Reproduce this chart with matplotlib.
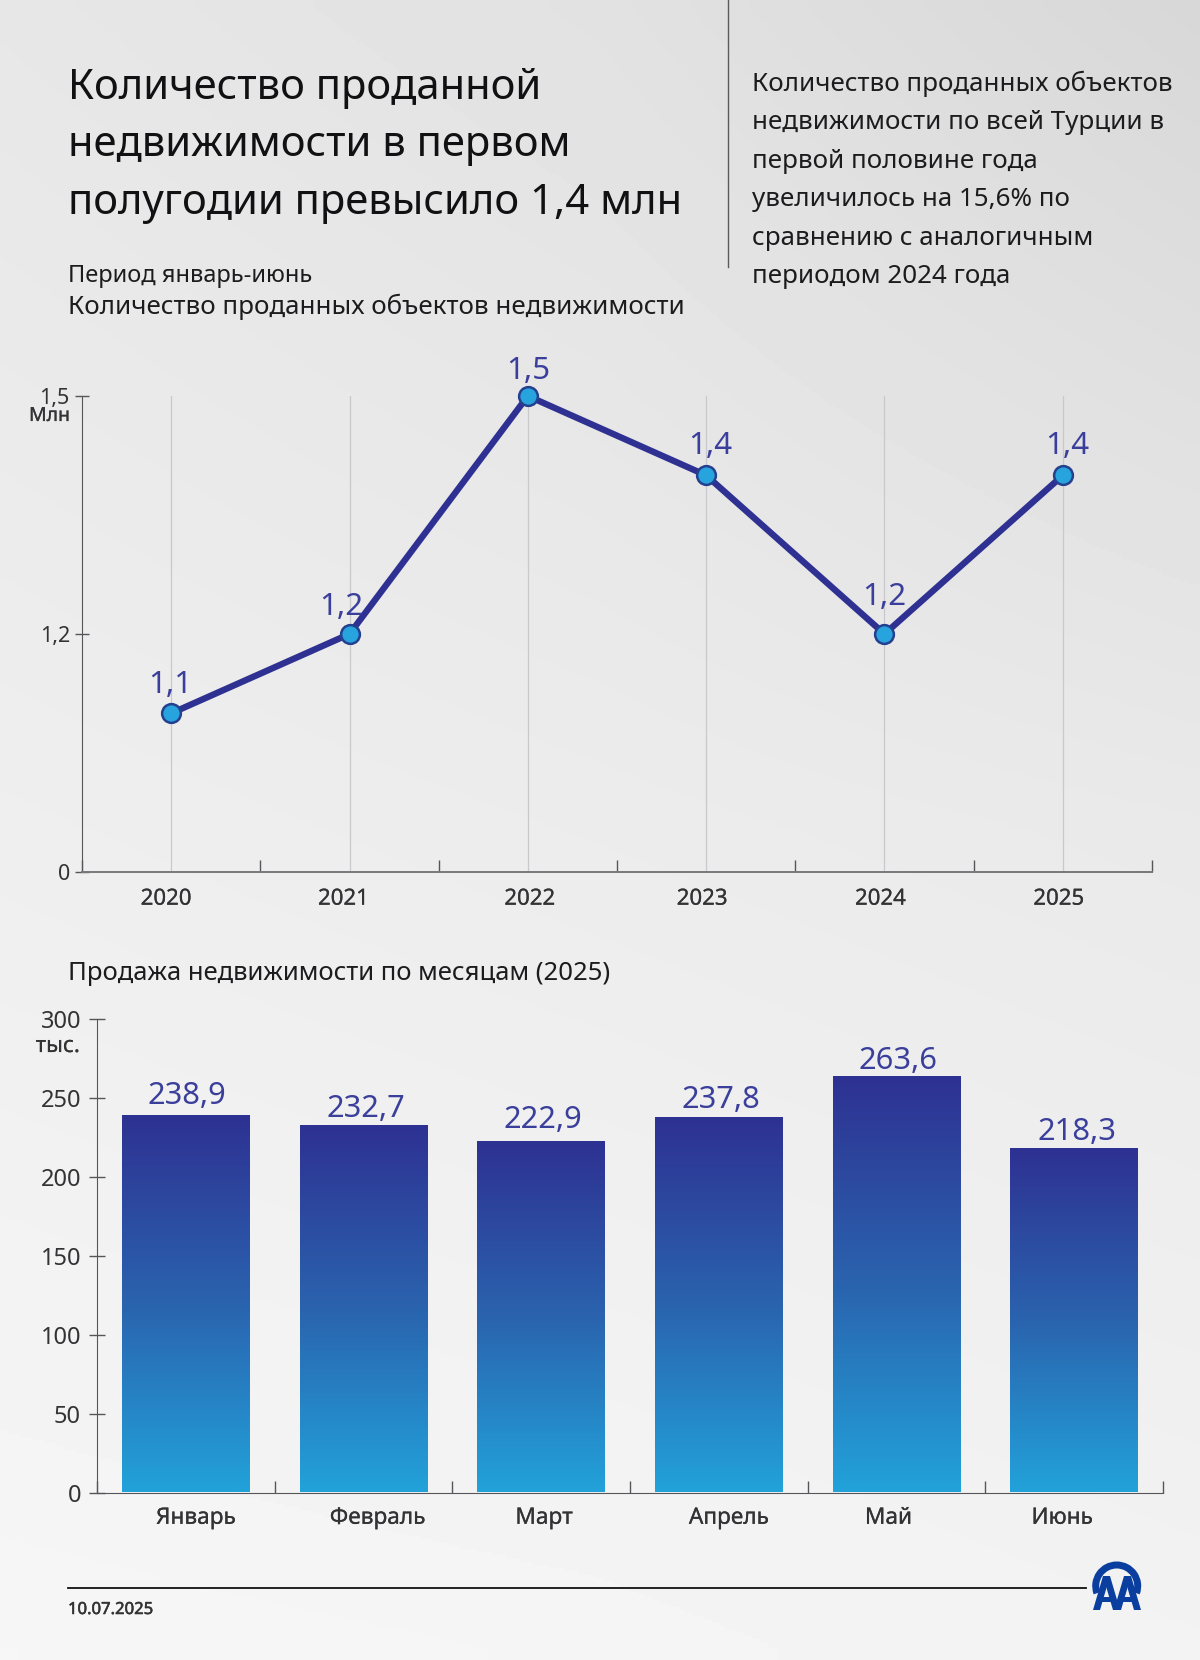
import numpy as np
import matplotlib
matplotlib.use('Agg')
import matplotlib.pyplot as plt
import matplotlib.patheffects as pe
from matplotlib.colors import LinearSegmentedColormap
from matplotlib.patches import Wedge
from matplotlib.transforms import ScaledTranslation

plt.rcParams['font.family'] = ['Noto Sans', 'DejaVu Sans']

W, H = 1200, 1660

title_lines = ['Количество проданной', 'недвижимости в первом', 'полугодии превысило 1,4 млн']
side_lines = ['Количество проданных объектов', 'недвижимости по всей Турции в', 'первой половине года',
              'увеличилось на 15,6% по', 'сравнению с аналогичным', 'периодом 2024 года']

years = ['2020', '2021', '2022', '2023', '2024', '2025']
sold_mln = [1.1, 1.2, 1.5, 1.4, 1.2, 1.4]
sold_labels = ['1,1', '1,2', '1,5', '1,4', '1,2', '1,4']

months = ['Январь', 'Февраль', 'Март', 'Апрель', 'Май', 'Июнь']
monthly = [238.9, 232.7, 222.9, 237.8, 263.6, 218.3]
monthly_labels = ['238,9', '232,7', '222,9', '237,8', '263,6', '218,3']
monthly_ticks = [0, 50, 100, 150, 200, 250, 300]

NAVY = '#2e3192'
LABEL = '#3b3f9c'
DARK = '#1c1c1e'
TICK = '#333335'
HEAVY = [pe.withStroke(linewidth=0.4, foreground=TICK)]
LIGHT_HEAVY = [pe.withStroke(linewidth=0.15, foreground=TICK)]


def box(left, top, right, bottom):
    return [left / W, 1 - bottom / H, (right - left) / W, (bottom - top) / H]


def shift_labels(ax, shifts):
    # the original labels are not quite centred, move each one by hand
    for lab, dx in zip(ax.get_xticklabels(), shifts):
        lab.set_transform(lab.get_transform() + ScaledTranslation(dx / 100, 0, fig.dpi_scale_trans))
        lab.set_path_effects(LIGHT_HEAVY)


def style_axis(ax, tick_len, y_size):
    ax.set_facecolor('none')
    for s in ['top', 'right']:
        ax.spines[s].set_visible(False)
    ax.set_xlim(-0.5, 5.5)
    ax.set_xticks(np.arange(-0.5, 6), minor=True)
    ax.tick_params(axis='x', which='minor', direction='in', length=9, width=1, color='#55555a')
    ax.tick_params(axis='x', which='major', length=0, labelcolor=TICK)
    ax.tick_params(axis='y', direction='inout', length=tick_len, width=1, color='#55555a',
                   labelsize=y_size, labelcolor=TICK)


fig = plt.figure(figsize=(W / 100, H / 100), dpi=100)

# page background
bg = fig.add_axes([0, 0, 1, 1], zorder=0)
shade = np.array([[0.905, 0.885, 0.845],
                  [0.935, 0.925, 0.915],
                  [0.965, 0.96, 0.95]])
bg.imshow(shade, cmap='gray', vmin=0, vmax=1, extent=(-300, W + 300, H + 400, -400), aspect='auto',
          interpolation='bilinear')
bg.set_xlim(0, W)
bg.set_ylim(H, 0)
bg.axis('off')

for line, y in zip(title_lines, [99, 156, 214]):
    bg.text(68, y, line, fontsize=30.1, color='#111113', va='baseline')
for line, y in zip(side_lines, [91, 129, 168, 206, 245, 283]):
    bg.text(752, y, line, fontsize=18.7, color=DARK, va='baseline')
bg.text(68, 282, 'Период январь-июнь', fontsize=17, color=DARK, va='baseline')
bg.text(68, 314, 'Количество проданных объектов недвижимости', fontsize=18.7, color=DARK, va='baseline')
bg.text(68, 980, 'Продажа недвижимости по месяцам (2025)', fontsize=18.5, color=DARK, va='baseline')
bg.text(68, 1614, '10.07.2025', fontsize=12, color=TICK, va='baseline', path_effects=HEAVY)
bg.text(70, 421, 'Млн', fontsize=14, color=TICK, ha='right', va='baseline', path_effects=LIGHT_HEAVY)
bg.text(80, 1052, 'тыс.', fontsize=16, color=TICK, ha='right', va='baseline', path_effects=LIGHT_HEAVY)

bg.plot([728, 728], [0, 267], color='#5a5a5e', lw=1)
bg.plot([68, 1086], [1588, 1588], color='#111111', lw=1.3)

# AA logo
LOGO = '#0b3f9f'
bg.add_patch(Wedge((1116.7, 1586), 24.5, 160, 380, width=7, color=LOGO, lw=0))
for cx in [1106.5, 1127.5]:
    bg.fill([cx - 13.5, cx - 6.5, cx + 3.5, cx - 3.5], [1610, 1610, 1576, 1576], color=LOGO, lw=0)
    bg.fill([cx + 13.5, cx + 6.5, cx - 3.5, cx + 3.5], [1610, 1610, 1576, 1576], color=LOGO, lw=0)
    bg.fill([cx - 8, cx + 8, cx + 8, cx - 8], [1597, 1597, 1602, 1602], color=LOGO, lw=0)
bg.set_xlim(0, W)
bg.set_ylim(H, 0)

# yearly line chart, the axis is cut so that 0 sits right under 0.9
ax1 = fig.add_axes(box(82, 396, 1152, 872), zorder=1)
style_axis(ax1, 9.5, 15.5)
ax1.set_ylim(0.9, 1.5)
ax1.set_yticks([0.9, 1.2, 1.5], ['0', '1,2', '1,5'])
ax1.set_xticks(range(len(years)), years)
ax1.tick_params(axis='y', pad=4)
ax1.tick_params(axis='x', which='major', pad=12, labelsize=16)
ax1.grid(axis='x', which='major', color='#c9c9cd', lw=0.9)
ax1.set_axisbelow(True)
ax1.spines['left'].set_color('#55555a')
ax1.spines['bottom'].set_color('#77777c')
ax1.spines['bottom'].set_linewidth(1.4)
ax1.plot(range(len(years)), sold_mln, color=NAVY, lw=4.6, marker='o', ms=13.5, mfc='#27a4de',
         mec='#24408f', mew=1.8, clip_on=False, zorder=3)
offs1 = [(-1, 20), (-8, 19), (0, 17), (4, 21), (0, 29), (4, 21)]
for i, v in enumerate(sold_mln):
    ax1.annotate(sold_labels[i], (i, v), xytext=offs1[i], textcoords='offset pixels', ha='center',
                 va='baseline', fontsize=22.5, color=LABEL)
shift_labels(ax1, [-5, -6, 2, -4, -4, -4])

# monthly bars
ax2 = fig.add_axes(box(97, 1019, 1163, 1492.5), zorder=1)
style_axis(ax2, 11, 17)
ax2.set_ylim(0, 300)
ax2.set_yticks(monthly_ticks)
ax2.set_xticks(range(len(months)), months)
ax2.tick_params(axis='y', pad=6)
ax2.tick_params(axis='x', which='major', pad=11, labelsize=16.3)
ax2.spines['left'].set_color('#55555a')
ax2.spines['bottom'].set_color('#55555a')

bar_cmap = LinearSegmentedColormap.from_list('bars', ['#2e3192', '#2a63ae', '#22a2da'])
grad = np.linspace(0, 1, 256).reshape(-1, 1)
bars = ax2.bar(range(len(months)), monthly, width=0.72, color='none', zorder=2)
for b in bars:
    x0, x1 = b.get_x(), b.get_x() + b.get_width()
    img = ax2.imshow(grad, cmap=bar_cmap, extent=(x0, x1, 0, b.get_height()), aspect='auto', zorder=2)
    img.set_clip_path(b)
ax2.set_xlim(-0.5, 5.5)
ax2.set_ylim(0, 300)
offs2 = [(1, 11), (2, 8), (2, 13), (2, 9), (2, 7), (3, 8)]
for i, v in enumerate(monthly):
    ax2.annotate(monthly_labels[i], (i, v), xytext=offs2[i], textcoords='offset pixels', ha='center',
                 va='baseline', fontsize=22.2, color=LABEL)
shift_labels(ax2, [10, 14, 3, 10, -8, -12])

fig.savefig('out.png', dpi=100)
